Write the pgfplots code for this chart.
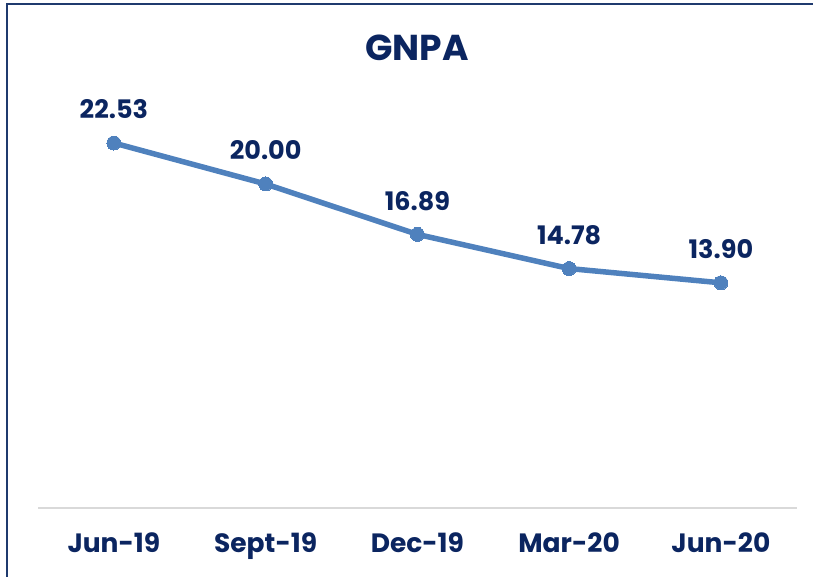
\documentclass[border=0pt]{standalone}
\usepackage{pgfplots}
\pgfplotsset{compat=1.18}
\usepackage{fontspec}
\setmainfont{Poppins}
\definecolor{navy}{HTML}{0B2560}
\definecolor{frame}{HTML}{1F3A6E}
\definecolor{linec}{HTML}{4F81BD}
\definecolor{axgray}{HTML}{D9D9D9}
\begin{document}
\begin{tikzpicture}[x=1bp,y=1bp]
\path[use as bounding box] (-38,-69) rectangle (775,508);
\draw[frame, line width=2bp] (-31,-69) -- (-31,504) -- (776,504);
\begin{axis}[
  at={(0,0)}, anchor=south west,
  scale only axis,
  width=758.75bp, height=453.6bp,
  xmin=-0.5, xmax=4.5, ymin=0, ymax=28,
  axis x line=bottom, axis y line=none,
  axis line style={axgray, line width=1.5bp, -},
  xtick={0,1,2,3,4},
  xticklabels={Jun-19,Sept-19,Dec-19,Mar-20,Jun-20},
  major tick length=0pt,
  xticklabel style={font=\fontsize{26.5bp}{30bp}\selectfont\bfseries, text=navy, inner sep=0pt, yshift=-25bp},
  ytick=\empty,
  clip=false,
  nodes near coords,
  point meta=explicit symbolic,
  every node near coord/.append style={font=\fontsize{25.5bp}{28bp}\selectfont\bfseries, text=navy, anchor=south, inner sep=0pt, yshift=24bp},
]
\addplot[linec, line width=5.5bp, mark=*, mark size=7bp, mark options={fill=linec, draw=linec, line width=0pt}]
  table[meta=lab] {
x y lab
0 22.53 22.53
1 20.00 20.00
2 16.89 16.89
3 14.78 14.78
4 13.90 13.90
};
\end{axis}
\node[font=\fontsize{36bp}{40bp}\selectfont\bfseries, text=navy, anchor=base] at (379,447) {GNPA};
\end{tikzpicture}
\end{document}
